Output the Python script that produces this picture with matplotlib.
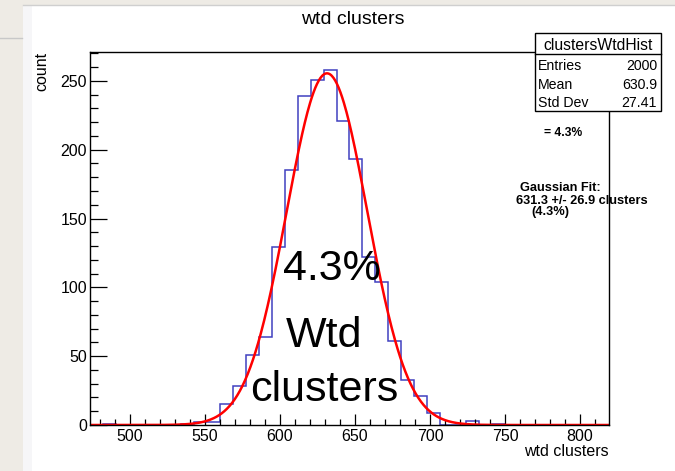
import numpy as np
import matplotlib
matplotlib.use('Agg')
import matplotlib.pyplot as plt
from matplotlib.patches import Rectangle
from matplotlib.lines import Line2D
from matplotlib.ticker import MultipleLocator

plt.rcParams['font.family'] = ['Liberation Sans', 'DejaVu Sans']

# ---------------- data ----------------
x_min, x_max, n_bins = 473.3, 819.3, 40
counts = [0, 1, 0, 0, 0, 0, 0, 1, 2, 2,
          15, 28, 51, 64, 129, 185, 239, 251, 258, 221,
          193, 122, 104, 61, 33, 21, 9, 0, 0, 3,
          0, 1, 0, 0, 0, 0, 0, 0, 0, 0]
fit_const, fit_mean, fit_sigma = 255.5, 631.3, 26.9
y_ticks = [0, 50, 100, 150, 200, 250]
x_ticks = [500, 550, 600, 650, 700, 750, 800]
y_max = 271
title = "wtd clusters"
x_label = "wtd clusters"
y_label = "count"
stats_name = "clustersWtdHist"
stats_labels = ["Entries", "Mean", "Std Dev"]
stats_values = ["2000", "630.9", "27.41"]
big_lines = ["4.3%", "Wtd", "clusters"]
fit_lines = ["Gaussian Fit:", "631.3 +/- 26.9 clusters", "(4.3%)"]
pct_text = "= 4.3%"

# ---------------- figure ----------------
W, H = 675, 471
fig = plt.figure(figsize=(W / 100, H / 100), dpi=100, facecolor='#eeebe5')


def fx(px):
    return px / W


def fy(py):
    return 1 - py / H


# white pad panel + decoration
fig.add_artist(Rectangle((fx(23), 0), 1 - fx(23), fy(5), transform=fig.transFigure,
                         facecolor='white', edgecolor='none', zorder=-2))
fig.add_artist(Rectangle((fx(23), 0), fx(32) - fx(23), fy(5), transform=fig.transFigure,
                         facecolor='#f6f6f8', edgecolor='none', zorder=-1))
fig.add_artist(Line2D([fx(23), 1], [fy(5), fy(5)], transform=fig.transFigure,
                      color='#cfcfcf', lw=1, zorder=-1))
fig.add_artist(Line2D([0, fx(22)], [fy(38), fy(38)], transform=fig.transFigure,
                      color='#c8c8c8', lw=1, zorder=-1))

ax = fig.add_axes([fx(90), fy(425), fx(609) - fx(90), fy(52) - fy(425)])
ax.set_facecolor('none')

edges = np.linspace(x_min, x_max, n_bins + 1)
ax.stairs(counts, edges, color='#4040c0', lw=1.1, baseline=0)

xs = np.linspace(x_min, x_max, 600)
ys = fit_const * np.exp(-0.5 * ((xs - fit_mean) / fit_sigma) ** 2)
ax.plot(xs, ys, color='#ff0000', lw=1.8)

ax.set_xlim(x_min, x_max)
ax.set_ylim(0, y_max)
ax.set_xticks(x_ticks)
ax.set_yticks(y_ticks)
ax.xaxis.set_minor_locator(MultipleLocator(10))
ax.yaxis.set_minor_locator(MultipleLocator(10))
for s in ax.spines.values():
    s.set_linewidth(1.0)
    s.set_color('black')
ax.tick_params(axis='both', which='both', direction='in', width=0.9, color='black',
               labelsize=11.5, top=False, right=False)
ax.tick_params(axis='y', which='major', length=12, pad=2)
ax.tick_params(axis='y', which='minor', length=6)
ax.tick_params(axis='x', which='major', length=8, pad=3)
ax.tick_params(axis='x', which='minor', length=4)

# axis titles
fig.text(fx(609), fy(456), x_label, ha='right', va='baseline', fontsize=11.5)
fig.text(fx(42), fy(52), y_label, ha='center', va='top', rotation=90, fontsize=11.5)
fig.text(fx(353), fy(20), title, ha='center', va='center', fontsize=14)

# big annotation
fig.text(fx(332), fy(280), big_lines[0], ha='center', va='baseline', fontsize=31, zorder=6)
fig.text(fx(324), fy(347), big_lines[1], ha='center', va='baseline', fontsize=31, zorder=6)
fig.text(fx(324), fy(401), big_lines[2], ha='center', va='baseline', fontsize=31, zorder=6)

# stats box
bx0, bx1, by0, by1, bdiv = 535, 661, 33, 111, 54
fig.add_artist(Rectangle((fx(bx0), fy(by1)), fx(bx1) - fx(bx0), fy(by0) - fy(by1),
                         transform=fig.transFigure, facecolor='white', edgecolor='black',
                         lw=1.0, zorder=5))
fig.add_artist(Line2D([fx(bx0), fx(bx1)], [fy(bdiv), fy(bdiv)], transform=fig.transFigure,
                      color='black', lw=1.0, zorder=6))
fig.text(fx((bx0 + bx1) / 2), fy(50), stats_name, ha='center', va='baseline', fontsize=11.3, zorder=7)
for i, (lab, val) in enumerate(zip(stats_labels, stats_values)):
    yb = 70 + i * 18.5
    fig.text(fx(538), fy(yb), lab, ha='left', va='baseline', fontsize=10.2, zorder=7)
    fig.text(fx(657), fy(yb), val, ha='right', va='baseline', fontsize=10.2, zorder=7)

# fit annotations
fig.text(fx(544), fy(136), pct_text, ha='left', va='baseline', fontsize=8.7,
         fontweight='bold', zorder=7)
fig.text(fx(520), fy(191), fit_lines[0], ha='left', va='baseline', fontsize=9.2,
         fontweight='bold', zorder=7)
fig.text(fx(516), fy(203.5), fit_lines[1], ha='left', va='baseline', fontsize=9.2,
         fontweight='bold', zorder=7)
fig.text(fx(531), fy(215.5), fit_lines[2], ha='left', va='baseline', fontsize=9.2,
         fontweight='bold', zorder=7)

fig.savefig('out.png', dpi=100, facecolor=fig.get_facecolor())
